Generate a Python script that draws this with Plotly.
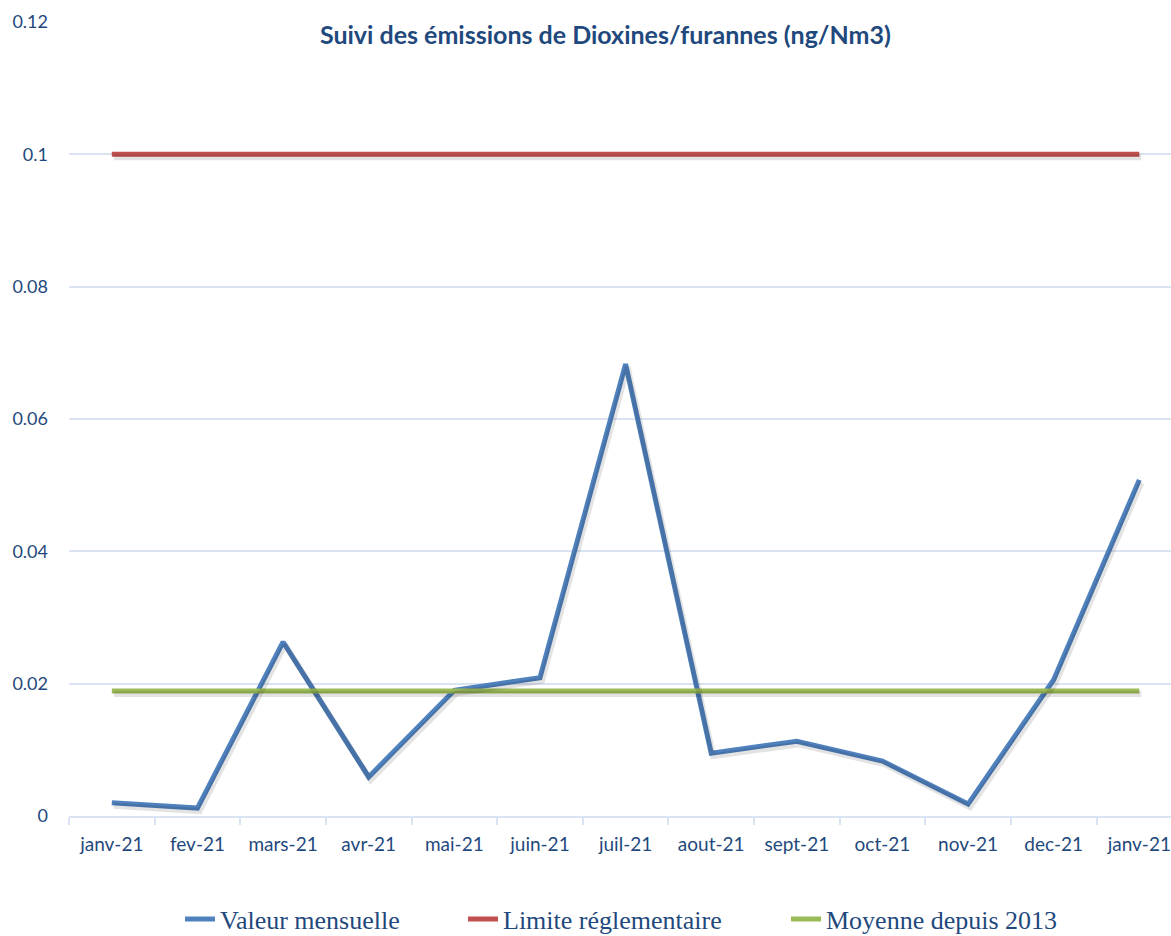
import plotly.graph_objects as go

months = ["janv-21", "fev-21", "mars-21", "avr-21", "mai-21", "juin-21", "juil-21",
          "aout-21", "sept-21", "oct-21", "nov-21", "dec-21", "janv-21"]
valeur_mensuelle = [0.0020, 0.0012, 0.0263, 0.0059, 0.0190, 0.0209, 0.0683,
                    0.0095, 0.0113, 0.0083, 0.0018, 0.0206, 0.0508]
limite = [0.1] * len(months)
moyenne = [0.0189] * len(months)
y_ticks = [0, 0.02, 0.04, 0.06, 0.08, 0.1, 0.12]
y_ticklabels = ["0", "0.02", "0.04", "0.06", "0.08", "0.1", "0.12"]

xs = list(range(len(months)))
X_RANGE = [-0.5, 12.37]
Y_RANGE = [0, 0.12]

fig = go.Figure()

# soft drop shadows drawn on a twin axis pair whose ranges are nudged a few pixels
px_x = (X_RANGE[1] - X_RANGE[0]) / 1102
px_y = (Y_RANGE[1] - Y_RANGE[0]) / 794
for series in (valeur_mensuelle, limite, moyenne):
    fig.add_trace(go.Scatter(x=xs, y=series, mode="lines", showlegend=False, hoverinfo="skip",
                             line=dict(color="rgba(0,0,0,0.11)", width=6),
                             xaxis="x2", yaxis="y2"))

fig.add_trace(go.Scatter(x=xs, y=valeur_mensuelle, mode="lines", name="Valeur mensuelle",
                         line=dict(color="#4f81bd", width=5), legend="legend"))
fig.add_trace(go.Scatter(x=xs, y=limite, mode="lines", name="Limite réglementaire",
                         line=dict(color="#c0504d", width=5), legend="legend2"))
fig.add_trace(go.Scatter(x=xs, y=moyenne, mode="lines", name="Moyenne depuis 2013",
                         line=dict(color="#9bbb59", width=5), legend="legend3"))

tick_color = "#1f497d"
grid_color = "#d9e3f1"
legend_font = dict(family="Liberation Serif", size=26, color="#1f497d")
legend_y = (816 - 919) / 794


def legend_at(px_left):
    return dict(orientation="h", x=(px_left - 69) / 1102, xanchor="left", y=legend_y,
                yanchor="middle", font=legend_font, bgcolor="rgba(0,0,0,0)")


fig.update_layout(
    width=1171, height=936,
    margin=dict(l=69, r=0, t=22, b=120, autoexpand=False),
    paper_bgcolor="white", plot_bgcolor="white",
    title=dict(text="<b>Suivi des émissions de Dioxines/furannes (ng/Nm3)</b>",
               x=0.517, xanchor="center", y=1 - 35 / 936, yanchor="middle",
               font=dict(family="Lato", size=25, color="#1f497d")),
    legend=legend_at(180),
    legend2=legend_at(463),
    legend3=legend_at(786),
    showlegend=True,
    xaxis2=dict(overlaying="x", range=[X_RANGE[0] - 2 * px_x, X_RANGE[1] - 2 * px_x],
                visible=False, showgrid=False, zeroline=False),
    yaxis2=dict(overlaying="y", range=[Y_RANGE[0] + 3 * px_y, Y_RANGE[1] + 3 * px_y],
                visible=False, showgrid=False, zeroline=False),
)
fig.update_layout(xaxis=dict(
    tickmode="array", tickvals=xs, ticktext=months,
    range=X_RANGE, automargin=False,
    showgrid=False, zeroline=False,
    showline=True, linecolor=grid_color, linewidth=2,
    ticks="", ticklabelstandoff=10,
    minor=dict(ticks="outside", tick0=-0.5, dtick=1, ticklen=7, tickcolor=grid_color, tickwidth=2, showgrid=False),
    tickfont=dict(family="Lato", size=19, color=tick_color),
))
fig.update_layout(yaxis=dict(
    range=Y_RANGE, tickmode="array", tickvals=y_ticks, ticktext=y_ticklabels,
    showgrid=True, gridcolor=grid_color, gridwidth=1.5, zeroline=False, automargin=False,
    showline=False, ticks="", ticklabelstandoff=20,
    tickfont=dict(family="Lato", size=18, color=tick_color),
))

fig.write_html("out.html", config={"displayModeBar": False},
               post_script="document.body.style.margin='0';document.body.style.overflow='hidden';")
